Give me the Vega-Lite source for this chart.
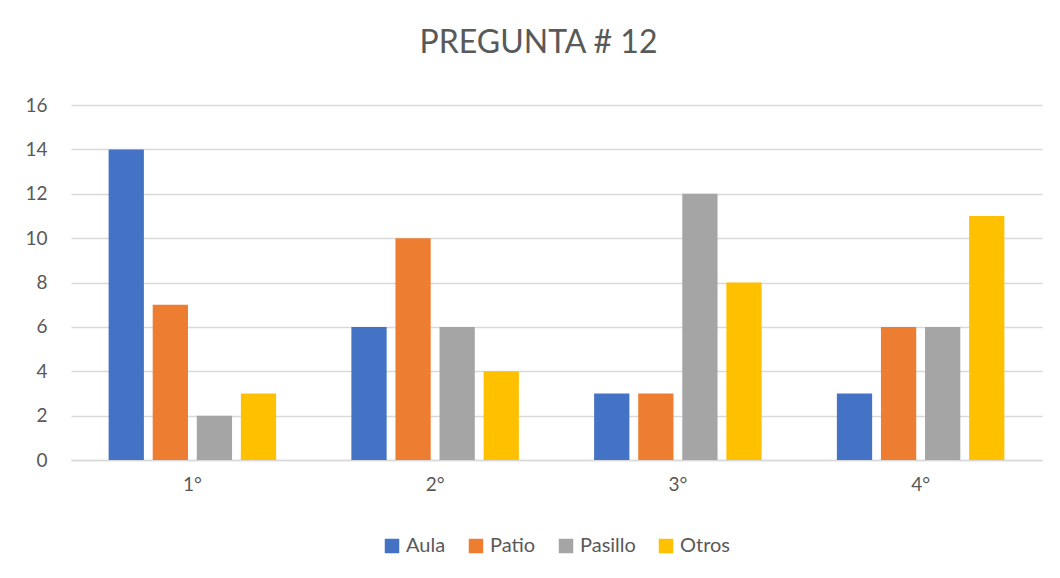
{
  "$schema": "https://vega.github.io/schema/vega-lite/v6.json",
  "autosize": "none",
  "width": 971,
  "height": 355,
  "padding": {"left": 71, "top": 105, "right": 18, "bottom": 118},
  "background": "white",
  "title": {"text": "PREGUNTA # 12", "fontSize": 32, "font": "Lato", "fontWeight": "normal", "color": "#595959", "anchor": "middle", "offset": 36, "dx": -18},
  "data": {"values": [
    {"grado": "1°", "lugar": "Aula", "valor": 14},
    {"grado": "1°", "lugar": "Patio", "valor": 7},
    {"grado": "1°", "lugar": "Pasillo", "valor": 2},
    {"grado": "1°", "lugar": "Otros", "valor": 3},
    {"grado": "2°", "lugar": "Aula", "valor": 6},
    {"grado": "2°", "lugar": "Patio", "valor": 10},
    {"grado": "2°", "lugar": "Pasillo", "valor": 6},
    {"grado": "2°", "lugar": "Otros", "valor": 4},
    {"grado": "3°", "lugar": "Aula", "valor": 3},
    {"grado": "3°", "lugar": "Patio", "valor": 3},
    {"grado": "3°", "lugar": "Pasillo", "valor": 12},
    {"grado": "3°", "lugar": "Otros", "valor": 8},
    {"grado": "4°", "lugar": "Aula", "valor": 3},
    {"grado": "4°", "lugar": "Patio", "valor": 6},
    {"grado": "4°", "lugar": "Pasillo", "valor": 6},
    {"grado": "4°", "lugar": "Otros", "valor": 11}
  ]},
  "mark": {"type": "bar"},
  "encoding": {
    "x": {"field": "grado", "type": "nominal", "sort": null,
      "scale": {"paddingInner": 0.31, "paddingOuter": 0.155},
      "axis": {"title": null, "labelAngle": 0, "labelFont": "Lato", "labelFontSize": 19, "labelColor": "#595959", "ticks": false, "domainColor": "#d9d9d9", "domainWidth": 1.5, "labelPadding": 15}},
    "xOffset": {"field": "lugar", "type": "nominal", "sort": ["Aula", "Patio", "Pasillo", "Otros"],
      "scale": {"paddingInner": 0.2, "paddingOuter": 0}},
    "y": {"field": "valor", "type": "quantitative",
      "scale": {"domain": [0, 16]},
      "axis": {"title": null, "values": [0,2,4,6,8,10,12,14,16], "labelOverlap": false, "labelFont": "Lato", "labelFontSize": 19, "labelColor": "#595959", "ticks": false, "domain": false, "gridColor": "#d9d9d9", "gridWidth": 1.5, "labelPadding": 24}},
    "color": {"field": "lugar", "type": "nominal", "sort": ["Aula", "Patio", "Pasillo", "Otros"],
      "scale": {"domain": ["Aula", "Patio", "Pasillo", "Otros"], "range": ["#4472C4", "#ED7D31", "#A5A5A5", "#FFC000"]},
      "legend": {"title": null, "orient": "bottom", "direction": "horizontal", "symbolType": "square", "symbolSize": 210, "symbolStrokeWidth": 0, "labelFont": "Lato", "labelFontSize": 20, "labelColor": "#595959", "columnPadding": 20, "offset": 42, "labelOffset": 4}}
  },
  "config": {"view": {"stroke": null}, "legend": {"layout": {"bottom": {"anchor": "middle"}}}}
}
